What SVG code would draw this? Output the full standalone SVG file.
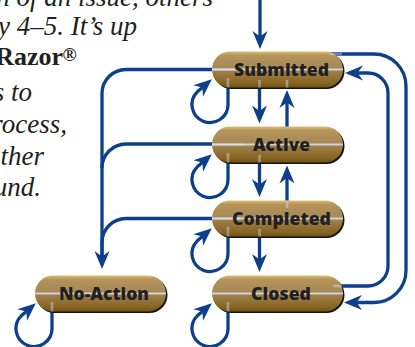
<svg xmlns="http://www.w3.org/2000/svg" width="415" height="347" viewBox="0 0 415 347">
<style>
.body{font-family:"Liberation Serif",serif;font-style:italic;font-size:27px;fill:#231f20}
.bold{font-family:"Liberation Serif",serif;font-weight:700;font-size:26px;fill:#231f20}
.lbl{font-family:"Open Sans","Liberation Sans",sans-serif;font-weight:800;font-size:18px;fill:#231f20;text-anchor:middle}
.pill{fill:url(#gold)}
.shadow{fill:#141414}
.con{fill:none;stroke:#0d3f8c;stroke-width:3.3;marker-end:url(#ah)}
.line{fill:none;stroke:#0d3f8c;stroke-width:3.3}
.ghost{fill:none;stroke:#e3e9ef;stroke-width:2.6;opacity:.4}
</style>
<defs>
<linearGradient id="gold" x1="0" y1="0" x2="0" y2="1">
<stop offset="0" stop-color="#e2bf78"/>
<stop offset="0.1" stop-color="#b59559"/>
<stop offset="0.45" stop-color="#a68859"/>
<stop offset="0.5" stop-color="#d3d6d8"/>
<stop offset="0.55" stop-color="#a0804a"/>
<stop offset="0.9" stop-color="#84621f"/>
<stop offset="1" stop-color="#6f4f14"/>
</linearGradient>
<marker id="ah" markerUnits="userSpaceOnUse" viewBox="-8 -8 21 16" markerWidth="21" markerHeight="16" refX="0" refY="0" orient="auto">
<path d="M11,0 L-7,-7.5 L-1.5,0 L-7,7.5 Z" fill="#0d3f8c"/>
</marker>
</defs>

<g id="text">
<text class="body" x="213" y="6" text-anchor="end">n of an issue, others</text>
<text class="body" x="137" y="35" text-anchor="end">y 4–5. It’s up</text>
<text class="bold" x="63" y="65" text-anchor="end">Razor</text>
<text class="bold" x="62.5" y="61" style="font-size:19px">®</text>
<text class="body" x="32" y="101" text-anchor="end">s to</text>
<text class="body" x="67" y="133" text-anchor="end">rocess,</text>
<text class="body" x="44" y="165" text-anchor="end">other</text>
<text class="body" x="41" y="196" text-anchor="end">und.</text>
</g>

<g id="connectors">
<path class="con" d="M260,0 V38"/>
<path class="con" d="M259.5,88 V112.5"/>
<path class="con" d="M287,127 V101"/>
<path class="con" d="M259.5,163 V186"/>
<path class="con" d="M287,201 V176.5"/>
<path class="con" d="M259.5,237 V261"/>
<path class="line" d="M212,144 H126 A24,24 0 0 0 102,168"/>
<path class="con" d="M212,69.5 H126 A24,24 0 0 0 102,93.5 V258"/>
<path class="line" d="M212,218.5 H126 A24,24 0 0 0 102,242.5 V258"/>
<path class="con" d="M330,54 H374 A32,32 0 0 1 406,86 V270.5 A32,32 0 0 1 374,302.5 H355"/>
<path class="con" d="M335,286 H368 A20,20 0 0 0 388,266 V93 A20,20 0 0 0 368,73 H356"/>
<path class="con" d="M228,87.5 V104.5 A18,18 0 1 1 197.3,91.8 L203.5,86.5"/>
<path class="con" d="M228,162.5 V179.5 A18,18 0 1 1 197.3,166.8 L203.5,161.5"/>
<path class="con" d="M228,236.5 V253.5 A18,18 0 1 1 197.3,240.8 L203.5,235.5"/>
<path class="con" d="M228,311.5 V328.5 A18,18 0 1 1 197.3,315.8 L203.5,310.5"/>
<path class="con" d="M52,311.5 V328.5 A18,18 0 1 1 21.3,315.8 L27.5,310.5"/>
</g>

<g id="submitted">
<rect class="shadow" x="213.5" y="53" width="131" height="36" rx="18"/>
<rect class="pill" x="212" y="51.5" width="131" height="36" rx="18"/>
<path class="ghost" d="M212,69.5 H245 M228,78 V87.5 M259.5,80 V87.5 M287,80 V87.5 M330,54 H342"/>
<text class="lbl" x="281.5" y="75.5" textLength="95" lengthAdjust="spacingAndGlyphs">Submitted</text>
</g>

<g id="active">
<rect class="shadow" x="213.5" y="128" width="131" height="36" rx="18"/>
<rect class="pill" x="212" y="126.5" width="131" height="36" rx="18"/>
<path class="ghost" d="M212,144.5 H245 M228,153 V162.5 M259.5,155 V162.5"/>
<text class="lbl" x="281.5" y="150.5" textLength="57" lengthAdjust="spacingAndGlyphs">Active</text>
</g>

<g id="completed">
<rect class="shadow" x="213.5" y="202" width="131" height="36" rx="18"/>
<rect class="pill" x="212" y="200.5" width="131" height="36" rx="18"/>
<path class="ghost" d="M212,218.5 H240 M228,227 V236.5 M259.5,229 V236.5 M287,200.5 V208"/>
<text class="lbl" x="281.5" y="224.5" textLength="99" lengthAdjust="spacingAndGlyphs">Completed</text>
</g>

<g id="closed">
<rect class="shadow" x="213.5" y="277" width="131" height="36" rx="18"/>
<rect class="pill" x="212" y="275.5" width="131" height="36" rx="18"/>
<path class="ghost" d="M228,302 V311.5 M333,286 H342"/>
<text class="lbl" x="281" y="299.5" textLength="60" lengthAdjust="spacingAndGlyphs">Closed</text>
</g>

<g id="no-action">
<rect class="shadow" x="36.5" y="277" width="131" height="36" rx="18"/>
<rect class="pill" x="35" y="275.5" width="131" height="36" rx="18"/>
<path class="ghost" d="M52,302 V311.5"/>
<text class="lbl" x="104" y="300" textLength="90" lengthAdjust="spacingAndGlyphs">No-Action</text>
</g>
</svg>
